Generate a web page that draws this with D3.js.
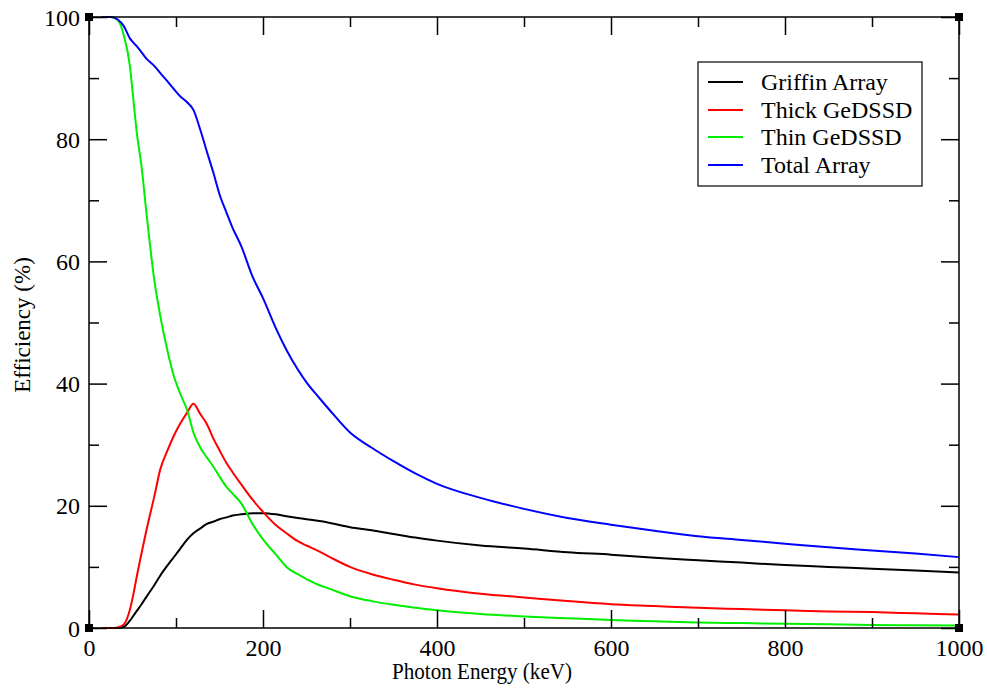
<!DOCTYPE html>
<html>
<head>
<meta charset="utf-8">
<script src="https://cdn.jsdelivr.net/npm/d3@7"></script>
<style>
  body { margin: 0; background: #fff; }
  svg { display: block; font-family: "Liberation Serif", "DejaVu Serif", serif; }
  .axis path { display: none; }
  .axis line { stroke: #000; stroke-width: 1.5; }
  .axis text { font-size: 24px; fill: #000; font-family: "Liberation Serif", serif; }
</style>
</head>
<body>
<div id="chart"></div>
<script>
// photon energy (keV) sample points
var energy = [15, 25, 33, 40, 47, 51, 55, 60, 66, 75, 82, 90, 97, 105, 113, 120, 128, 135, 143, 150,
  158, 165, 175, 188, 200, 215, 227, 240, 250, 265, 277, 300, 325, 350, 375, 400, 450, 500, 550, 600,
  650, 700, 750, 800, 850, 900, 950, 1000];

var griffin = [0, 0, 0, 0.2, 1.2, 2, 2.8, 3.8, 5.1, 7, 8.6, 10.2, 11.5, 13, 14.5, 15.5, 16.3, 17, 17.4, 17.8,
  18.1, 18.4, 18.6, 18.8, 18.8, 18.6, 18.3, 18, 17.8, 17.5, 17.2, 16.5, 16, 15.4, 14.8, 14.3, 13.5, 13, 12.4, 12,
  11.5, 11.1, 10.7, 10.3, 10, 9.7, 9.4, 9.1];

var thick = [0, 0, 0.1, 0.6, 3, 5.5, 8.5, 12, 16, 21.5, 26, 29, 31.3, 33.5, 35.3, 36.7, 35, 33.5, 31, 29.1,
  27, 25.5, 23.5, 21, 19, 16.8, 15.5, 14.2, 13.5, 12.5, 11.6, 10, 8.8, 7.9, 7.1, 6.5, 5.6, 5, 4.4, 3.9,
  3.6, 3.3, 3.1, 2.9, 2.7, 2.6, 2.4, 2.2];

var thin = [100, 100, 99.5, 97, 92, 86.5, 81, 76, 68, 57, 51, 45.5, 41.5, 38.3, 35.6, 32, 29.5, 28, 26.4, 24.8,
  23.1, 22, 20.4, 17, 14.5, 12, 10, 8.8, 8, 7, 6.4, 5.2, 4.4, 3.8, 3.3, 2.9, 2.3, 1.9, 1.6, 1.3,
  1.1, 0.9, 0.8, 0.7, 0.6, 0.5, 0.45, 0.4];

var total = [100, 100, 99.6, 98.5, 96.5, 95.8, 95.2, 94.3, 93.2, 92, 90.8, 89.5, 88.3, 87, 86, 84.8, 81.5, 78.2, 74.5, 71,
  68, 65.5, 62.5, 57.5, 54, 49, 45.5, 42.3, 40.2, 37.6, 35.6, 32, 29.5, 27.3, 25.3, 23.6, 21.3, 19.5, 18, 16.9,
  15.9, 15, 14.4, 13.8, 13.2, 12.7, 12.2, 11.6];

var seriesNames = ["Griffin Array", "Thick GeDSSD", "Thin GeDSSD", "Total Array"];
var seriesColors = ["#000000", "#ff0000", "#00ee00", "#0000ff"];
var seriesValues = [griffin, thick, thin, total];

var xMajor = [0, 200, 400, 600, 800, 1000];
var xMinor = [100, 300, 500, 700, 900];
var yMajor = [0, 20, 40, 60, 80, 100];
var yMinor = [10, 30, 50, 70, 90];

var width = 987, height = 690;
var margin = { left: 89, right: 28, top: 17, bottom: 62 };

var svg = d3.select("#chart").append("svg")
  .attr("width", width)
  .attr("height", height);

svg.append("rect").attr("width", width).attr("height", height).attr("fill", "#fff");

var x = d3.scaleLinear().domain([0, 1000]).range([margin.left, width - margin.right]);
var y = d3.scaleLinear().domain([0, 100]).range([height - margin.bottom, margin.top]);

// curves
var line = d3.line()
  .x(function(d) { return x(d[0]); })
  .y(function(d) { return y(d[1]); })
  .curve(d3.curveMonotoneX);

seriesValues.forEach(function(vals, i) {
  svg.append("path")
    .datum(energy.map(function(e, j) { return [e, vals[j]]; }))
    .attr("fill", "none")
    .attr("stroke", seriesColors[i])
    .attr("stroke-width", 2)
    .attr("d", line);
});

// frame
svg.append("rect")
  .attr("x", x(0)).attr("y", y(100))
  .attr("width", x(1000) - x(0)).attr("height", y(0) - y(100))
  .attr("fill", "none").attr("stroke", "#000").attr("stroke-width", 1.5);

// axes: ticks pointing inward on all four sides
svg.append("g").attr("class", "axis")
  .attr("transform", "translate(0," + y(0) + ")")
  .call(d3.axisBottom(x).tickValues(xMajor).tickSize(-18).tickPadding(20).tickFormat(d3.format("d")));
svg.append("g").attr("class", "axis")
  .attr("transform", "translate(0," + y(0) + ")")
  .call(d3.axisBottom(x).tickValues(xMinor).tickSize(-10).tickFormat(""));
svg.append("g").attr("class", "axis")
  .attr("transform", "translate(0," + y(100) + ")")
  .call(d3.axisTop(x).tickValues(xMajor).tickSize(-18).tickFormat(""));
svg.append("g").attr("class", "axis")
  .attr("transform", "translate(0," + y(100) + ")")
  .call(d3.axisTop(x).tickValues(xMinor).tickSize(-10).tickFormat(""));

svg.append("g").attr("class", "axis")
  .attr("transform", "translate(" + x(0) + ",0)")
  .call(d3.axisLeft(y).tickValues(yMajor).tickSize(-18).tickPadding(9).tickFormat(d3.format("d")));
svg.append("g").attr("class", "axis")
  .attr("transform", "translate(" + x(0) + ",0)")
  .call(d3.axisLeft(y).tickValues(yMinor).tickSize(-10).tickFormat(""));
svg.append("g").attr("class", "axis")
  .attr("transform", "translate(" + x(1000) + ",0)")
  .call(d3.axisRight(y).tickValues(yMajor).tickSize(-18).tickFormat(""));
svg.append("g").attr("class", "axis")
  .attr("transform", "translate(" + x(1000) + ",0)")
  .call(d3.axisRight(y).tickValues(yMinor).tickSize(-10).tickFormat(""));

svg.selectAll(".axis .tick text").attr("dy", null);
svg.selectAll(".axis .tick text").attr("dominant-baseline", "central");

// corner markers
var corners = [[0, 0], [1000, 0], [0, 100], [1000, 100]];
svg.selectAll("rect.corner")
  .data(corners)
  .enter()
    .append("rect")
    .attr("class", "corner")
    .attr("x", function(d) { return x(d[0]) - 4; })
    .attr("y", function(d) { return y(d[1]) - 4; })
    .attr("width", 8)
    .attr("height", 8)
    .attr("fill", "#000");

// axis titles
svg.append("text")
  .attr("x", 482)
  .attr("y", 679)
  .attr("text-anchor", "middle")
  .attr("font-size", "23px")
  .attr("textLength", 180)
  .attr("lengthAdjust", "spacingAndGlyphs")
  .text("Photon Energy (keV)");

svg.append("text")
  .attr("transform", "translate(30,325) rotate(-90)")
  .attr("text-anchor", "middle")
  .attr("font-size", "23px")
  .text("Efficiency (%)");

// legend
var legend = svg.append("g").attr("transform", "translate(698,62)");
legend.append("rect")
  .attr("width", 224).attr("height", 124)
  .attr("fill", "#fff").attr("stroke", "#000").attr("stroke-width", 1.2);

var rowY = [20, 48, 75, 103];
seriesNames.forEach(function(name, i) {
  legend.append("line")
    .attr("x1", 10).attr("x2", 45)
    .attr("y1", rowY[i]).attr("y2", rowY[i])
    .attr("stroke", seriesColors[i]).attr("stroke-width", 2);
  legend.append("text")
    .attr("x", 63).attr("y", rowY[i])
    .attr("dominant-baseline", "central")
    .attr("font-size", "24px")
    .text(name);
});
</script>
</body>
</html>
